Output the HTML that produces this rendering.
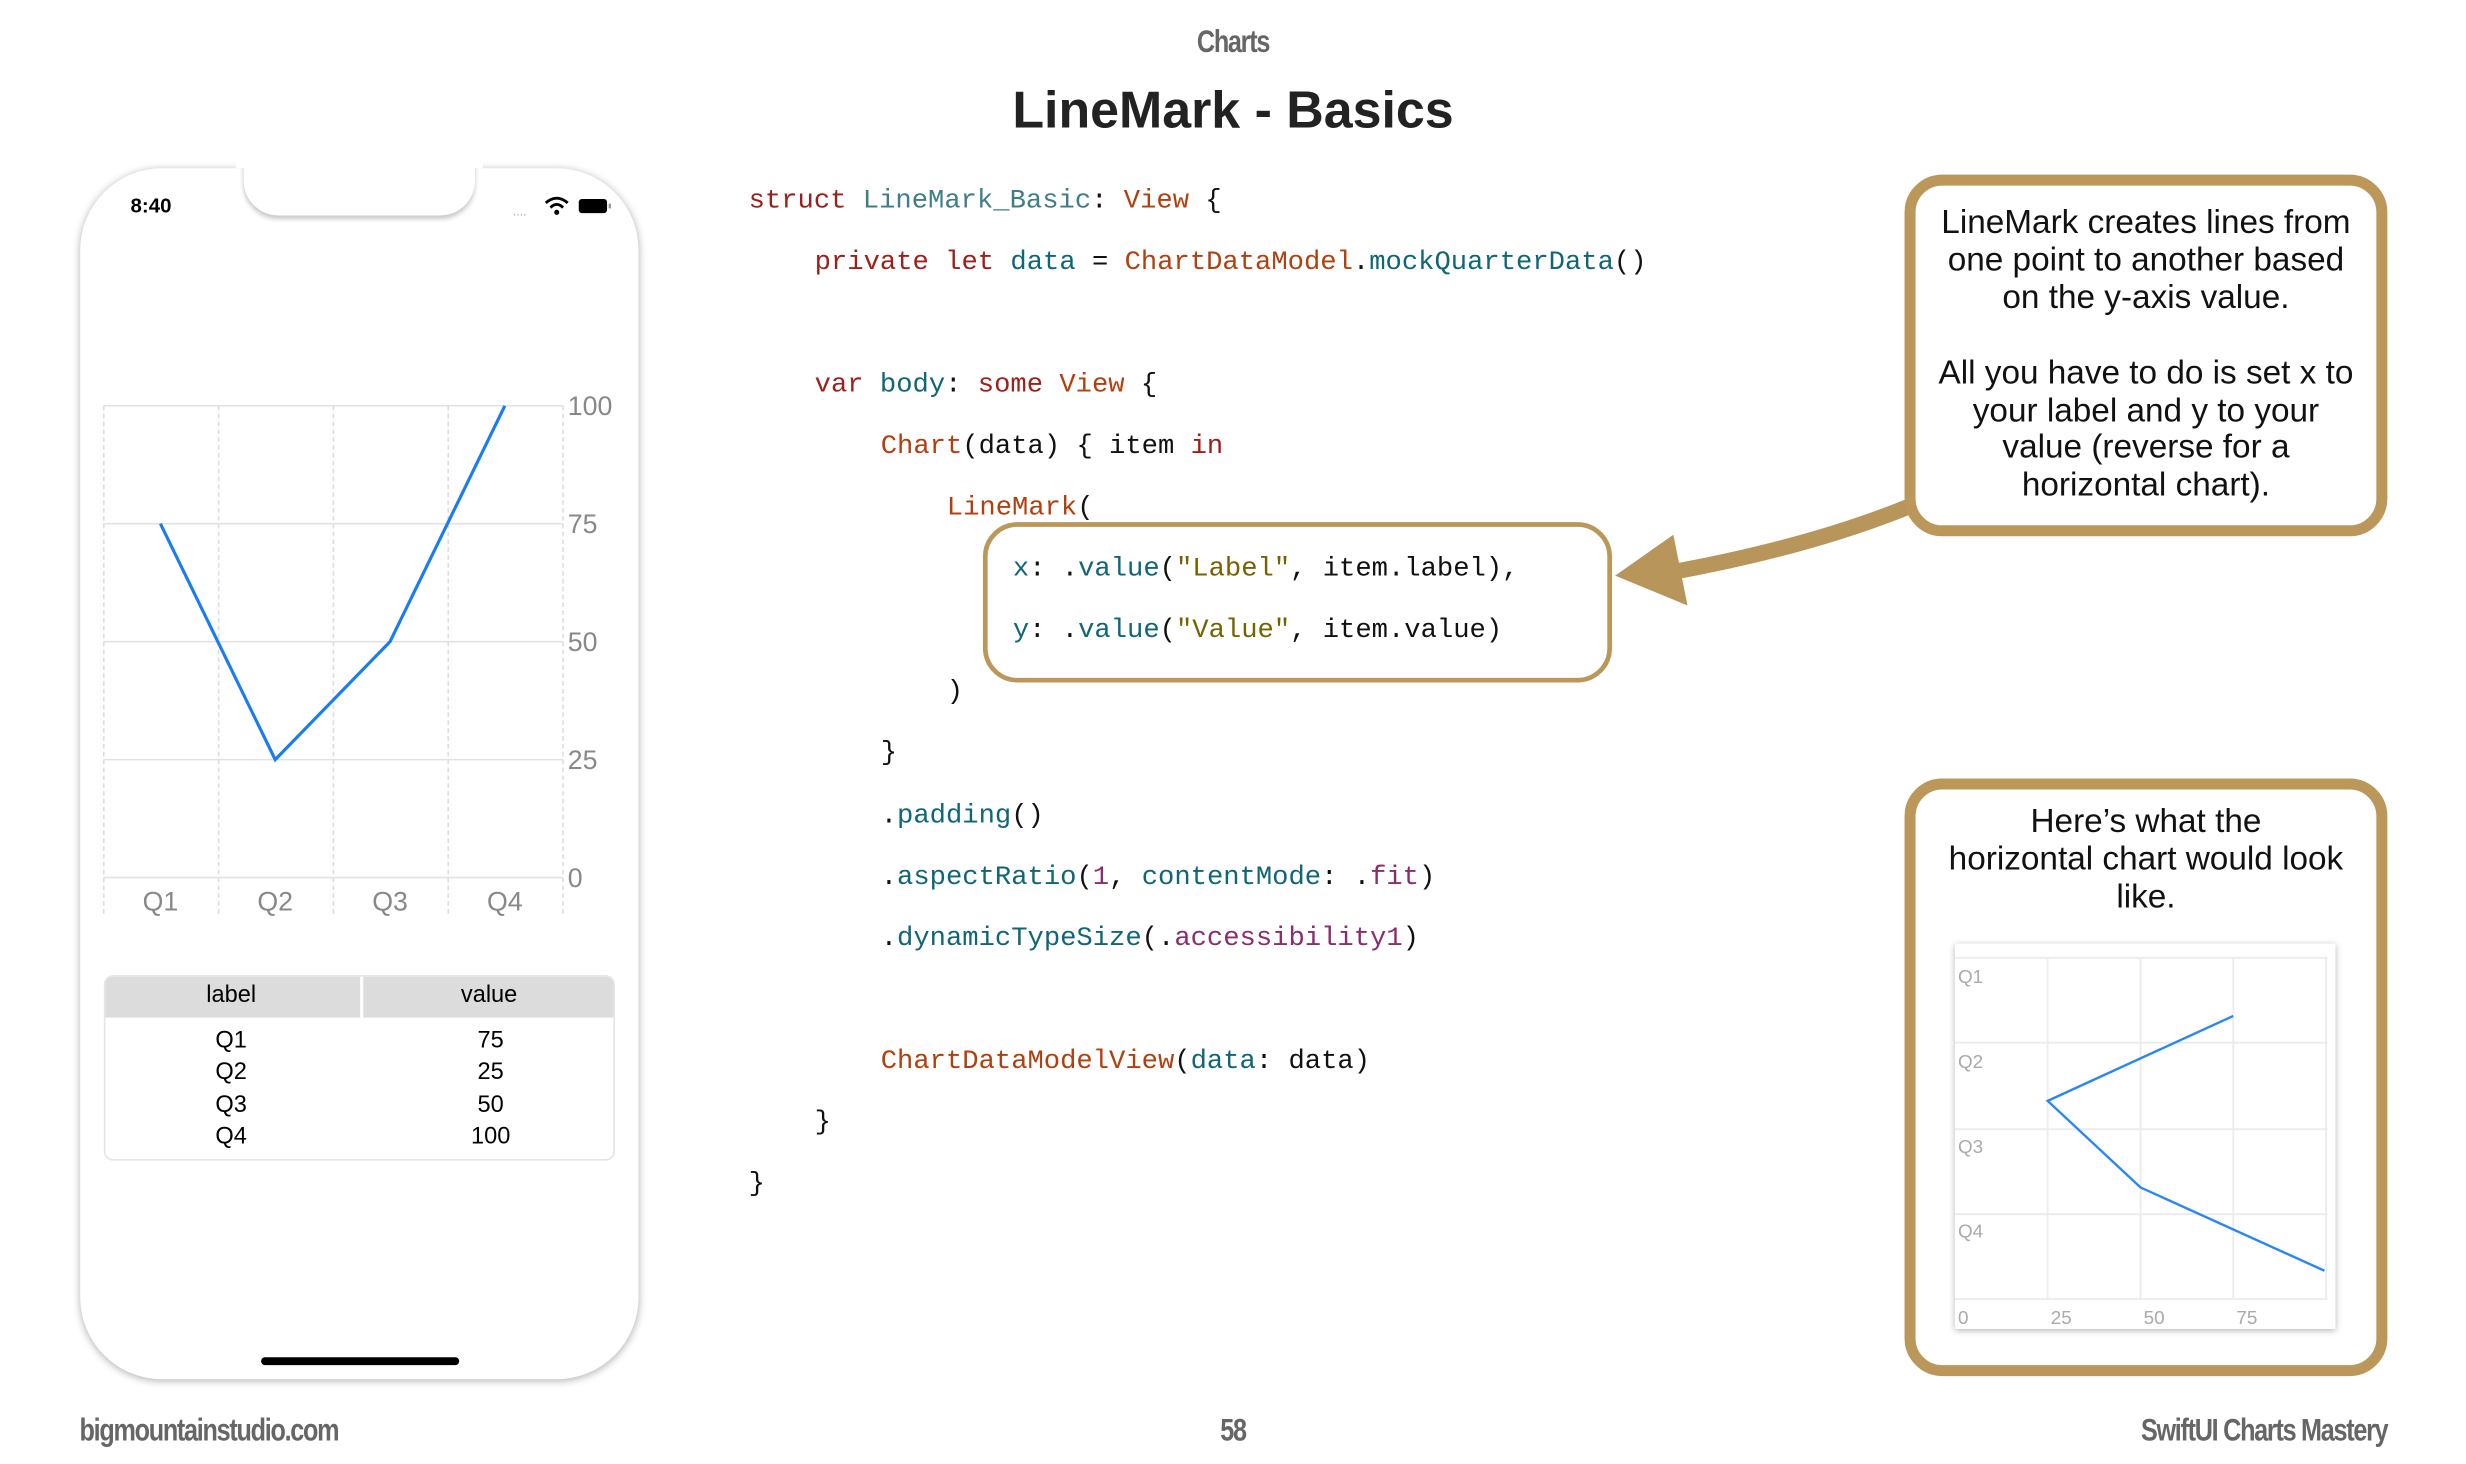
<!DOCTYPE html>
<html><head><meta charset="utf-8">
<style>
html,body{margin:0;padding:0;background:#fff;}
body{width:2466px;height:1464px;overflow:hidden;position:relative;}
#w{position:absolute;left:0;top:0;width:1568px;height:931px;transform:scale(1.57270);transform-origin:0 0;font-family:"Liberation Sans",sans-serif;}
.a{position:absolute;white-space:pre;}
.c{text-align:center;}
.code{font-family:"Liberation Mono",monospace;font-size:17.3px;line-height:24px;height:24px;color:#111;}
.k{color:#9b1f1a}.t{color:#b2400f}.i{color:#0f6675}.s{color:#756300}.p{color:#8a2d6a}.ty{color:#3f7e86}
.cond{font-weight:bold;color:#666;letter-spacing:-1px;transform:scaleX(.8);}
</style></head><body><div id="w">

<div class="a cond" style="left:684px;width:200px;top:14px;font-size:20px;text-align:center;line-height:26px;">Charts</div>
<div class="a c" style="left:484px;width:600px;top:48px;font-size:33px;font-weight:bold;color:#222;line-height:44px;">LineMark - Basics</div>

<!-- phone -->
<div class="a" style="left:51px;top:107px;width:355px;height:770px;border-radius:52px;background:#fff;box-shadow:0 1px 5px rgba(0,0,0,.3);"></div>
<div class="a" style="left:155px;top:100px;width:147px;height:37px;background:#fff;border-radius:0 0 22px 22px;box-shadow:0 2px 3px rgba(0,0,0,.22);"></div>
<div class="a" style="left:150px;top:95px;width:157px;height:12px;background:#fff;"></div>
<div class="a" style="left:83px;top:123px;font-size:13px;font-weight:bold;line-height:16px;">8:40</div>
<div class="a" style="left:326px;top:131px;font-size:8px;color:#aaa;line-height:8px;">....</div>
<svg class="a" style="left:345px;top:124px" width="50" height="14" viewBox="0 0 50 14">
<path d="M2 5 Q9 -1 16 5" stroke="#000" stroke-width="1.8" fill="none"/><path d="M5 8 Q9 4 13 8" stroke="#000" stroke-width="1.8" fill="none"/><circle cx="9" cy="11" r="1.6"/>
<rect x="23" y="2.5" width="18" height="9" rx="2" fill="#000"/><rect x="42" y="5.5" width="1.5" height="3" fill="#999"/></svg>

<svg class="a" style="left:0;top:0" width="420" height="600" viewBox="0 0 420 600">
<g stroke="#e2e2e2" stroke-width="1">
<line x1="66" y1="258" x2="358" y2="258"/><line x1="66" y1="333" x2="358" y2="333"/><line x1="66" y1="408" x2="358" y2="408"/><line x1="66" y1="483" x2="358" y2="483"/><line x1="66" y1="558" x2="358" y2="558"/>
</g>
<g stroke="#ddd" stroke-width="1" stroke-dasharray="3 2">
<line x1="66" y1="258" x2="66" y2="583"/><line x1="139" y1="258" x2="139" y2="583"/><line x1="212" y1="258" x2="212" y2="583"/><line x1="285" y1="258" x2="285" y2="583"/><line x1="358" y1="258" x2="358" y2="583"/>
</g>
<polyline points="102,333 175,483 248,408 321,258" fill="none" stroke="#1a7cf5" stroke-width="2"/>
<g font-family="Liberation Sans, sans-serif" font-size="17" fill="#888">
<text x="361" y="264">100</text><text x="361" y="339">75</text><text x="361" y="414">50</text><text x="361" y="489">25</text><text x="361" y="564">0</text>
<g text-anchor="middle"><text x="102" y="579">Q1</text><text x="175" y="579">Q2</text><text x="248" y="579">Q3</text><text x="321" y="579">Q4</text></g>
</g></svg>

<!-- table -->
<div class="a" style="left:66px;top:620px;width:325px;height:118px;border:1px solid #e4e4e4;border-radius:6px;box-sizing:border-box;overflow:hidden;">
<div style="position:absolute;left:0;top:0;width:162px;height:26px;background:#dcdcdc;"></div>
<div style="position:absolute;left:164px;top:0;width:161px;height:26px;background:#dcdcdc;"></div>
</div>
<div class="a c" style="left:66px;width:162px;top:624px;font-size:15px;line-height:18px;">label</div>
<div class="a c" style="left:230px;width:162px;top:624px;font-size:15px;line-height:18px;">value</div>
<div class="a c" style="left:66px;width:162px;top:652px;font-size:15px;line-height:20.4px;">Q1
Q2
Q3
Q4</div>
<div class="a c" style="left:230px;width:164px;top:652px;font-size:15px;line-height:20.4px;">75
25
50
100</div>
<div class="a" style="left:166px;top:863px;width:126px;height:5px;background:#000;border-radius:3px;"></div>

<!-- code -->
<div class="a code" style="left:476px;top:117px"><span class="k">struct</span> <span class="ty">LineMark_Basic</span>: <span class="t">View</span> {</div>
<div class="a code" style="left:518px;top:156px"><span class="k">private let</span> <span class="i">data</span> = <span class="t">ChartDataModel</span>.<span class="i">mockQuarterData</span>()</div>
<div class="a code" style="left:518px;top:234px"><span class="k">var</span> <span class="i">body</span>: <span class="k">some</span> <span class="t">View</span> {</div>
<div class="a code" style="left:560px;top:273px"><span class="t">Chart</span>(data) { item <span class="k">in</span></div>
<div class="a code" style="left:602px;top:312px"><span class="t">LineMark</span>(</div>
<div class="a code" style="left:644px;top:351px"><span class="i">x</span>: .<span class="i">value</span>(<span class="s">"Label"</span>, item.label),</div>
<div class="a code" style="left:644px;top:390px"><span class="i">y</span>: .<span class="i">value</span>(<span class="s">"Value"</span>, item.value)</div>
<div class="a code" style="left:602px;top:429px">)</div>
<div class="a code" style="left:560px;top:468px">}</div>
<div class="a code" style="left:560px;top:508px">.<span class="i">padding</span>()</div>
<div class="a code" style="left:560px;top:547px">.<span class="i">aspectRatio</span>(<span class="p">1</span>, <span class="i">contentMode</span>: .<span class="p">fit</span>)</div>
<div class="a code" style="left:560px;top:586px">.<span class="i">dynamicTypeSize</span>(.<span class="p">accessibility1</span>)</div>
<div class="a code" style="left:560px;top:664px"><span class="t">ChartDataModelView</span>(<span class="i">data</span>: data)</div>
<div class="a code" style="left:518px;top:703px">}</div>
<div class="a code" style="left:476px;top:742px">}</div>

<div class="a" style="left:625px;top:332px;width:400px;height:102px;border:3px solid #bc975a;border-radius:22px;box-sizing:border-box;"></div>

<!-- arrow -->
<svg class="a" style="left:1000px;top:300px" width="230" height="100" viewBox="1000 300 230 100">
<path d="M1214 322 Q1150 348 1062 364" stroke="#b8955a" stroke-width="10" fill="none"/>
<polygon points="1027,366 1064,340 1073,385" fill="#b8955a"/></svg>

<!-- callout 1 -->
<div class="a" style="left:1211px;top:111px;width:307px;height:230px;border:7px solid #bc975a;border-radius:24px;box-sizing:border-box;"></div>
<div class="a c" style="left:1201px;width:327px;top:130px;font-size:21.2px;line-height:23.9px;color:#111;">LineMark creates lines from
one point to another based
on the y-axis value.

All you have to do is set x to
your label and y to your
value (reverse for a
horizontal chart).</div>

<!-- callout 2 -->
<div class="a" style="left:1211px;top:495px;width:307px;height:380px;border:7px solid #bc975a;border-radius:24px;box-sizing:border-box;"></div>
<div class="a c" style="left:1201px;width:327px;top:511px;font-size:21.2px;line-height:23.9px;color:#111;">Here’s what the
horizontal chart would look
like.</div>
<div class="a" style="left:1243px;top:600px;width:242px;height:245px;background:#fff;box-shadow:0 1px 4px rgba(0,0,0,.3);"></div>
<svg class="a" style="left:1243px;top:600px" width="242" height="245" viewBox="1243 600 242 245">
<g stroke="#ececec" stroke-width="1.2">
<line x1="1243" y1="609" x2="1480" y2="609"/><line x1="1243" y1="663" x2="1480" y2="663"/><line x1="1243" y1="718" x2="1480" y2="718"/><line x1="1243" y1="772" x2="1480" y2="772"/><line x1="1243" y1="826" x2="1480" y2="826"/>
<line x1="1302" y1="609" x2="1302" y2="826"/><line x1="1361" y1="609" x2="1361" y2="826"/><line x1="1420" y1="609" x2="1420" y2="826"/><line x1="1479" y1="609" x2="1479" y2="826"/>
</g>
<polyline points="1420,646 1302,700 1361,755 1478,808" fill="none" stroke="#2a86f5" stroke-width="1.5"/>
<g font-family="Liberation Sans, sans-serif" font-size="12" fill="#aaa">
<text x="1245" y="625">Q1</text><text x="1245" y="679">Q2</text><text x="1245" y="733">Q3</text><text x="1245" y="787">Q4</text>
<text x="1245" y="842">0</text><text x="1304" y="842">25</text><text x="1363" y="842">50</text><text x="1422" y="842">75</text>
</g></svg>

<!-- footer -->
<div class="a cond" style="left:30px;top:897px;font-size:20px;line-height:26px;">bigmountainstudio.com</div>
<div class="a cond" style="left:734px;width:100px;text-align:center;top:897px;font-size:20px;line-height:26px;">58</div>
<div class="a cond" style="left:1298px;width:220px;text-align:right;top:897px;font-size:20px;line-height:26px;transform-origin:100% 50%;">SwiftUI Charts Mastery</div>

</div></body></html>
